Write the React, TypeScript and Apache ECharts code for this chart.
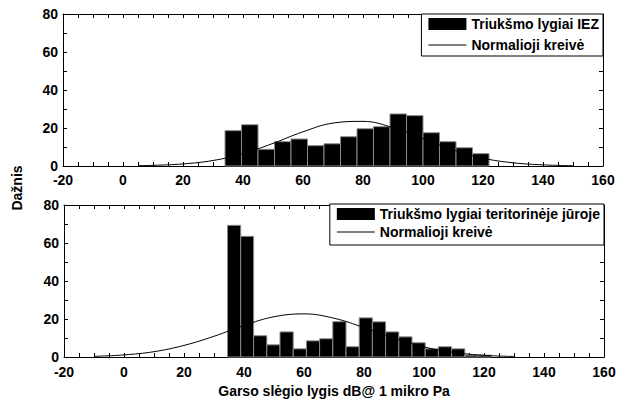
import React, { useEffect, useRef } from "react";
import * as echarts from "echarts";

// Top histogram: bin edges and counts ("Triukšmo lygiai IEZ")
const topEdges = [34, 39.5, 45, 50.5, 56, 61.5, 67, 72.5, 78, 83.5, 89, 94.5, 100, 105.5, 111, 116.5, 122];
const topCounts = [18.6, 21.7, 8.8, 12.8, 14.2, 10.7, 11.7, 15.4, 19.6, 20.7, 27.4, 26.5, 17.5, 12.8, 9.6, 6.5];
// Top normal curve
const topCurveX = [5, 10, 20, 30, 40, 50, 60, 70, 80, 90, 100, 110, 120, 130, 140, 150];
const topCurveY = [0.2, 0.35, 1.1, 2.9, 6.5, 11.9, 18, 22.6, 23.5, 20.2, 14.4, 8.5, 4.1, 1.7, 0.6, 0.15];

// Bottom histogram ("Triukšmo lygiai teritorinėje jūroje")
const bottomEdges = [34.5, 38.9, 43.2, 47.6, 52.0, 56.4, 60.8, 65.2, 69.6, 74.0, 78.4, 82.8, 87.2, 91.6, 96.0, 100.4, 104.8, 109.2, 113.6, 118.0, 122.4];
const bottomCounts = [69.3, 63.5, 11.2, 6.4, 13.2, 4.3, 8.5, 9.6, 18.6, 5.4, 20.6, 18.5, 13.2, 10.6, 7.5, 4.3, 5.4, 4.3, 1, 1];
const bottomCurveX = [-10, 0, 10, 20, 30, 40, 50, 60, 70, 80, 90, 100, 110, 120, 130];
const bottomCurveY = [0.36, 1.1, 2.8, 6.1, 10.9, 16.6, 21.2, 22.7, 20.4, 15.5, 9.9, 5.3, 2.4, 0.9, 0.28];

const topBarName = "Triukšmo lygiai IEZ";
const bottomBarName = "Triukšmo lygiai teritorinėje jūroje";
const curveName = "Normalioji kreivė";
const xTitle = "Garso slėgio lygis dB@ 1 mikro Pa";
const yTitle = "Dažnis";

const X_MIN = -20, X_MAX = 160, X_INT = 20;
const Y_MIN = 0, Y_MAX = 80, Y_INT = 20;

const FONT = "'Liberation Sans', Arial, Helvetica, sans-serif";
const LINE_ICON = "path://M0,0 L38,0 L38,1 L0,1 Z";

function histData(edges: number[], counts: number[]) {
  return counts.map((c, i) => [edges[i], edges[i + 1], c]);
}

function renderBar(params: any, api: any) {
  const p0 = api.coord([api.value(0), api.value(2)]);
  const p1 = api.coord([api.value(1), 0]);
  return {
    type: "rect",
    shape: { x: p0[0], y: p0[1], width: p1[0] - p0[0], height: p1[1] - p0[1] },
    style: { fill: "#000", stroke: "#8a8a8a", lineWidth: 1 },
  };
}

function xAxis(gridIndex: number, position: "top" | "bottom", labels: boolean, margin: number, name?: string) {
  return {
    type: "value",
    gridIndex,
    position,
    min: X_MIN,
    max: X_MAX,
    interval: X_INT,
    name: name,
    nameLocation: "middle",
    nameGap: 27,
    nameTextStyle: { color: "#000", fontFamily: FONT, fontWeight: "bold", fontSize: 14 },
    axisLine: { show: true, onZero: false, lineStyle: { color: "#000", width: 1 } },
    axisTick: { show: true, inside: true, length: 4, lineStyle: { color: "#000" } },
    minorTick: { show: true, splitNumber: 4, length: 4, lineStyle: { color: "#000" } },
    splitLine: { show: false },
    axisLabel: {
      show: labels,
      margin,
      color: "#000",
      fontFamily: FONT,
      fontWeight: "bold",
      fontSize: 14,
      lineHeight: 12,
    },
  };
}

function yAxis(gridIndex: number, position: "left" | "right", labels: boolean) {
  return {
    type: "value",
    gridIndex,
    position,
    min: Y_MIN,
    max: Y_MAX,
    interval: Y_INT,
    axisLine: { show: true, onZero: false, lineStyle: { color: "#000", width: 1 } },
    axisTick: { show: true, inside: true, length: 4, lineStyle: { color: "#000" } },
    minorTick: { show: true, splitNumber: 2, length: 4, lineStyle: { color: "#000" } },
    splitLine: { show: false },
    axisLabel: {
      show: labels,
      margin: 5,
      color: "#000",
      fontFamily: FONT,
      fontWeight: "bold",
      fontSize: 14,
      lineHeight: 12,
    },
  };
}

const legendText = { color: "#000", fontFamily: FONT, fontWeight: "bold", fontSize: 14, lineHeight: 14 };

export default function App() {
  const ref = useRef<HTMLDivElement>(null);
  useEffect(() => {
    if (!ref.current) return;
    const chart = echarts.init(ref.current, undefined, { renderer: "svg" });
    chart.setOption({
      animation: false,
      backgroundColor: "#fff",
      grid: [
        { left: 63, right: 27, top: 14, height: 152 },
        { left: 64, right: 26, top: 205, height: 152 },
      ],
      xAxis: [
        xAxis(0, "bottom", true, 8),
        xAxis(0, "top", false, 8),
        xAxis(1, "bottom", true, 9, xTitle),
        xAxis(1, "top", false, 9),
      ],
      yAxis: [
        yAxis(0, "left", true),
        yAxis(0, "right", false),
        yAxis(1, "left", true),
        yAxis(1, "right", false),
      ],
      legend: [
        {
          orient: "vertical",
          right: 27,
          top: 14,
          padding: [3, 4, 4, 7],
          itemGap: 7,
          itemWidth: 38,
          itemHeight: 12,
          borderColor: "#000",
          borderWidth: 1,
          backgroundColor: "#fff",
          textStyle: legendText,
          selectedMode: false,
          data: [
            { name: topBarName, icon: "rect", itemStyle: { color: "#000" } },
            { name: curveName, icon: LINE_ICON, itemStyle: { color: "#000", borderWidth: 0 } },
          ],
        },
        {
          orient: "vertical",
          right: 26,
          top: 204,
          padding: [3, 4, 6, 7],
          itemGap: 4,
          itemWidth: 38,
          itemHeight: 12,
          borderColor: "#000",
          borderWidth: 1,
          backgroundColor: "#fff",
          textStyle: legendText,
          selectedMode: false,
          data: [
            { name: bottomBarName, icon: "rect", itemStyle: { color: "#000" } },
            { name: curveName, icon: LINE_ICON, itemStyle: { color: "#000", borderWidth: 0 } },
          ],
        },
      ],
      graphic: [
        {
          type: "text",
          x: 17,
          y: 188,
          rotation: Math.PI / 2,
          style: {
            text: yTitle,
            fill: "#000",
            font: `bold 14px ${FONT}`,
            textAlign: "center",
            textVerticalAlign: "middle",
          },
        },
      ],
      series: [
        {
          name: topBarName,
          type: "custom",
          xAxisIndex: 0,
          yAxisIndex: 0,
          itemStyle: { color: "#000" },
          renderItem: renderBar,
          encode: { x: [0, 1], y: 2 },
          data: histData(topEdges, topCounts),
          z: 2,
        },
        {
          name: curveName,
          type: "line",
          xAxisIndex: 0,
          yAxisIndex: 0,
          symbol: "none",
          smooth: 0.4,
          lineStyle: { color: "#000", width: 1 },
          itemStyle: { color: "#000" },
          data: topCurveX.map((x, i) => [x, topCurveY[i]]),
          z: 3,
        },
        {
          name: bottomBarName,
          type: "custom",
          xAxisIndex: 2,
          yAxisIndex: 2,
          itemStyle: { color: "#000" },
          renderItem: renderBar,
          encode: { x: [0, 1], y: 2 },
          data: histData(bottomEdges, bottomCounts),
          z: 2,
        },
        {
          name: curveName,
          type: "line",
          xAxisIndex: 2,
          yAxisIndex: 2,
          symbol: "none",
          smooth: 0.4,
          lineStyle: { color: "#000", width: 1 },
          itemStyle: { color: "#000" },
          data: bottomCurveX.map((x, i) => [x, bottomCurveY[i]]),
          z: 3,
        },
      ],
    });
    return () => chart.dispose();
  }, []);
  return (
    <div
      ref={ref}
      style={{ position: "fixed", left: 0, top: 0, width: 630, height: 402, background: "#fff" }}
    />
  );
}
